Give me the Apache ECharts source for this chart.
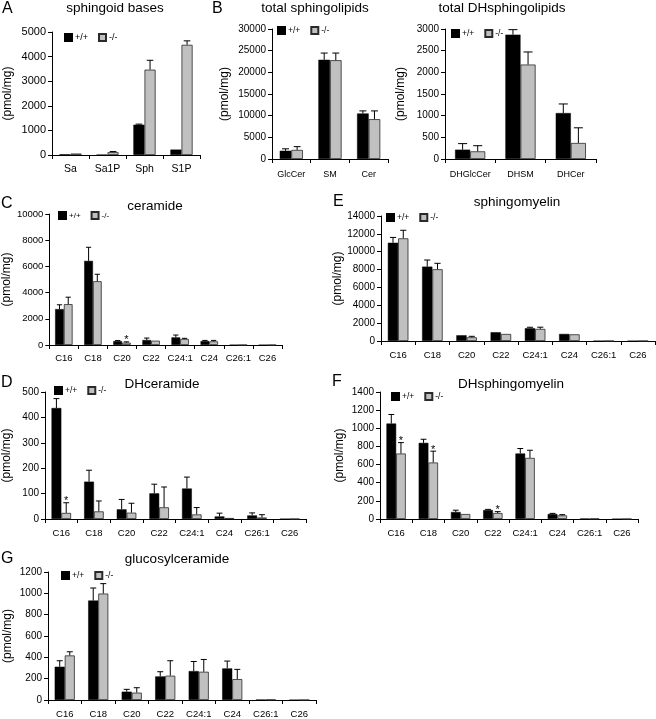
<!DOCTYPE html>
<html>
<head>
<meta charset="utf-8">
<script src="https://cdn.jsdelivr.net/npm/echarts@6/dist/echarts.min.js"></script>
<style>html,body{margin:0;padding:0;background:#fff}#c{width:656px;height:719px}</style>
</head>
<body>
<div id="c"></div>
<script>
// ---------- DATA ----------
const catsA = ['Sa', 'Sa1P', 'Sph', 'S1P'];
const wtA = [30, 10, 1230, 220];
const sdWtA = [10, 0, 25, 20];
const koA = [60, 115, 3470, 4480];
const sdKoA = [15, 25, 380, 160];

const catsB1 = ['GlcCer', 'SM', 'Cer'];
const wtB1 = [1900, 22900, 10500];
const sdWtB1 = [450, 1550, 600];
const koB1 = [2100, 22800, 9200];
const sdKoB1 = [750, 1650, 1900];

const catsB2 = ['DHGlcCer', 'DHSM', 'DHCer'];
const wtB2 = [215, 2870, 1060];
const sdWtB2 = [140, 115, 210];
const koB2 = [177, 2180, 370];
const sdKoB2 = [130, 290, 350];

const chains = ['C16', 'C18', 'C20', 'C22', 'C24:1', 'C24', 'C26:1', 'C26'];

const wtC = [2740, 6420, 300, 380, 580, 300, 0, 0];
const sdWtC = [330, 1040, 40, 150, 180, 50, 0, 0];
const koC = [3120, 4870, 180, 330, 460, 280, 0, 0];
const sdKoC = [530, 530, 60, 30, 50, 70, 0, 0];
const sigC = [0, 0, 1, 0, 0, 0, 0, 0];

const wtE = [11000, 8330, 640, 980, 1430, 790, 0, 0];
const sdWtE = [600, 740, 30, 20, 110, 20, 0, 0];
const koE = [11500, 8040, 415, 790, 1357, 750, 0, 0];
const sdKoE = [900, 660, 110, 50, 190, 40, 0, 0];

const wtD = [437, 147, 38, 101, 120, 10, 14, 0];
const sdWtD = [37, 45, 39, 36, 45, 13, 10, 0];
const koD = [24, 30, 25, 46, 18, 4, 6, 0];
const sdKoD = [40, 41, 37, 80, 27, 0, 11, 0];
const sigD = [1, 0, 0, 0, 0, 0, 0, 0];

const wtF = [1052, 839, 77, 99, 722, 55, 5, 0];
const sdWtF = [100, 40, 20, 7, 55, 7, 0, 0];
const koF = [722, 623, 55, 66, 674, 40, 3, 0];
const sdKoF = [120, 125, 5, 15, 84, 8, 5, 0];
const sigF = [1, 1, 0, 1, 0, 0, 0, 0];

const wtG = [312, 932, 78, 221, 271, 296, 3, 0];
const sdWtG = [56, 118, 22, 44, 90, 69, 0, 0];
const koG = [418, 998, 69, 228, 265, 196, 3, 0];
const sdKoG = [34, 93, 46, 140, 115, 91, 0, 0];

const legendNames = ['+/+', '-/-'];
const yName = '(pmol/mg)';

// ---------- LAYOUT ----------
const FONT = '"Liberation Sans", Arial, Helvetica, sans-serif';
const panels = [
  {letter:'A', title:'sphingoid bases', cats:catsA, wt:wtA, sdWt:sdWtA, ko:koA, sdKo:sdKoA,
   grid:{left:52, top:32, width:148, height:123}, max:5000, interval:1000,
   letterPos:[2,1], titlePos:[115,1], legend:[64,33], nameGap:38, tickFs:11, xFs:10.5, xMargin:9, legFs:9, titleFs:13.5},
  {letter:'B', title:'total sphingolipids', cats:catsB1, wt:wtB1, sdWt:sdWtB1, ko:koB1, sdKo:sdKoB1,
   grid:{left:272, top:29, width:116, height:130}, max:30000, interval:5000,
   letterPos:[212,1], titlePos:[315,1], legend:[277,26], nameGap:41, tickFs:10, xFs:9, xMargin:11, legFs:8.5, titleFs:13.5},
  {letter:'', title:'total DHsphingolipids', cats:catsB2, wt:wtB2, sdWt:sdWtB2, ko:koB2, sdKo:sdKoB2,
   grid:{left:445, top:29, width:151, height:130}, max:3000, interval:500,
   letterPos:[0,0], titlePos:[502,1], legend:[451,29], nameGap:38, tickFs:10, xFs:9, xMargin:11, legFs:8.5, titleFs:13.5},
  {letter:'C', title:'ceramide', cats:chains, wt:wtC, sdWt:sdWtC, ko:koC, sdKo:sdKoC, sig:sigC,
   grid:{left:43, top:214, width:239, height:131}, max:10000, interval:2000,
   letterPos:[1,196], titlePos:[155,199], legend:[58,211], nameGap:30, tickFs:9.5, xFs:9.5, xMargin:8, legFs:8, titleFs:13.5},
  {letter:'E', title:'sphingomyelin', cats:chains, wt:wtE, sdWt:sdWtE, ko:koE, sdKo:sdKoE,
   grid:{left:381, top:216, width:274, height:125}, max:14000, interval:2000,
   letterPos:[333,194], titlePos:[517,195], legend:[386,213], nameGap:37, tickFs:10, xFs:9.5, xMargin:9, legFs:8.5, titleFs:13.5},
  {letter:'D', title:'DHceramide', cats:chains, wt:wtD, sdWt:sdWtD, ko:koD, sdKo:sdKoD, sig:sigD,
   grid:{left:43, top:392, width:263, height:127}, max:500, interval:100,
   letterPos:[1,375], titlePos:[162,377], legend:[54,386], nameGap:32, tickFs:10, xFs:9.5, xMargin:9, legFs:8.5, titleFs:13.5},
  {letter:'F', title:'DHsphingomyelin', cats:chains, wt:wtF, sdWt:sdWtF, ko:koF, sdKo:sdKoF, sig:sigF,
   grid:{left:380, top:392, width:258, height:127}, max:1400, interval:200,
   letterPos:[332,374], titlePos:[511,377], legend:[391,392], nameGap:34, tickFs:10, xFs:9.5, xMargin:9, legFs:8.5, titleFs:13.5},
  {letter:'G', title:'glucosylceramide', cats:chains, wt:wtG, sdWt:sdWtG, ko:koG, sdKo:sdKoG,
   grid:{left:48, top:572, width:268, height:128}, max:1200, interval:200,
   letterPos:[1,551], titlePos:[177,552], legend:[61,571], nameGap:34, tickFs:10, xFs:9.5, xMargin:9, legFs:8.5, titleFs:13.5}
];

const grids = [], xAxes = [], yAxes = [], series = [], titles = [], legends = [];

function errRender(side) {
  return function (params, api) {
    const x = api.value(0), v = api.value(1), e = api.value(2), s = api.value(3);
    const band = api.size([1, 0])[0];
    const p0 = api.coord([x, v]);
    const p1 = api.coord([x, e]);
    const cx = p0[0] + side * band * 0.15;
    const capW = band * 0.09;
    const children = [];
    if (e > v && p0[1] - p1[1] > 0.5) {
      children.push({type:'line', shape:{x1:cx, y1:p0[1], x2:cx, y2:p1[1]}, style:{stroke:'#000', lineWidth:1}});
      children.push({type:'line', shape:{x1:cx - capW, y1:p1[1], x2:cx + capW, y2:p1[1]}, style:{stroke:'#000', lineWidth:1}});
    }
    if (s) {
      children.push({type:'text', style:{text:'*', x:cx, y:p1[1] + 4, align:'center', verticalAlign:'bottom', fontSize:11, fontFamily:FONT, fill:'#000'}});
    }
    return {type:'group', children:children};
  };
}

panels.forEach((p, i) => {
  grids.push(Object.assign({containLabel:false}, p.grid));
  xAxes.push({
    gridIndex:i, type:'category', data:p.cats,
    axisLine:{lineStyle:{color:'#000', width:1}},
    axisTick:{show:true, length:4, lineStyle:{color:'#000'}},
    axisLabel:{color:'#000', fontSize:p.xFs, fontFamily:FONT, margin:p.xMargin, interval:0}
  });
  yAxes.push({
    gridIndex:i, type:'value', min:0, max:p.max, interval:p.interval,
    splitLine:{show:false},
    axisLine:{show:true, lineStyle:{color:'#000', width:1}},
    axisTick:{show:true, length:4, lineStyle:{color:'#000'}},
    axisLabel:{color:'#000', fontSize:p.tickFs, fontFamily:FONT, margin:6, formatter:(v) => String(v)},
    name:yName, nameLocation:'middle', nameRotate:90, nameGap:p.nameGap,
    nameTextStyle:{color:'#000', fontSize:12, fontFamily:FONT}
  });
  series.push({
    name:legendNames[0], type:'bar', xAxisIndex:i, yAxisIndex:i, data:p.wt,
    barGap:'0%', barCategoryGap:'40%',
    itemStyle:{color:'#000', borderColor:'#000', borderWidth:0.5}
  });
  series.push({
    name:legendNames[1], type:'bar', xAxisIndex:i, yAxisIndex:i, data:p.ko,
    barGap:'0%', barCategoryGap:'40%',
    itemStyle:{color:'#c0c0c0', borderColor:'#2a2a2a', borderWidth:0.8}
  });
  const sig = p.sig || p.cats.map(() => 0);
  series.push({
    name:'err+/+' + i, type:'custom', xAxisIndex:i, yAxisIndex:i, z:5,
    renderItem:errRender(-1), encode:{x:0, y:1},
    data:p.wt.map((v, k) => [k, v, v + p.sdWt[k], 0])
  });
  series.push({
    name:'err-/-' + i, type:'custom', xAxisIndex:i, yAxisIndex:i, z:5,
    renderItem:errRender(1), encode:{x:0, y:1},
    data:p.ko.map((v, k) => [k, v, v + p.sdKo[k], sig[k]])
  });
  if (p.letter) {
    titles.push({text:p.letter, left:p.letterPos[0], top:p.letterPos[1], padding:0,
      textStyle:{fontSize:16, fontWeight:'normal', color:'#000', fontFamily:FONT}});
  }
  titles.push({text:p.title, left:p.titlePos[0], top:p.titlePos[1], textAlign:'center', padding:0,
    textStyle:{fontSize:p.titleFs, fontWeight:'normal', color:'#000', fontFamily:FONT}});
  legends.push({
    data:legendNames, left:p.legend[0], top:p.legend[1], orient:'horizontal',
    icon:'rect', itemWidth:7, itemHeight:7, itemGap:10, padding:0,
    textStyle:{fontSize:p.legFs, color:'#000', fontFamily:FONT, padding:[0,0,0,-2]},
    selectedMode:false
  });
});

const chart = echarts.init(document.getElementById('c'), null, {renderer:'canvas'});
chart.setOption({
  animation:false,
  backgroundColor:'#fff',
  textStyle:{fontFamily:FONT},
  title:titles,
  legend:legends,
  grid:grids,
  xAxis:xAxes,
  yAxis:yAxes,
  series:series
});
</script>
</body>
</html>
